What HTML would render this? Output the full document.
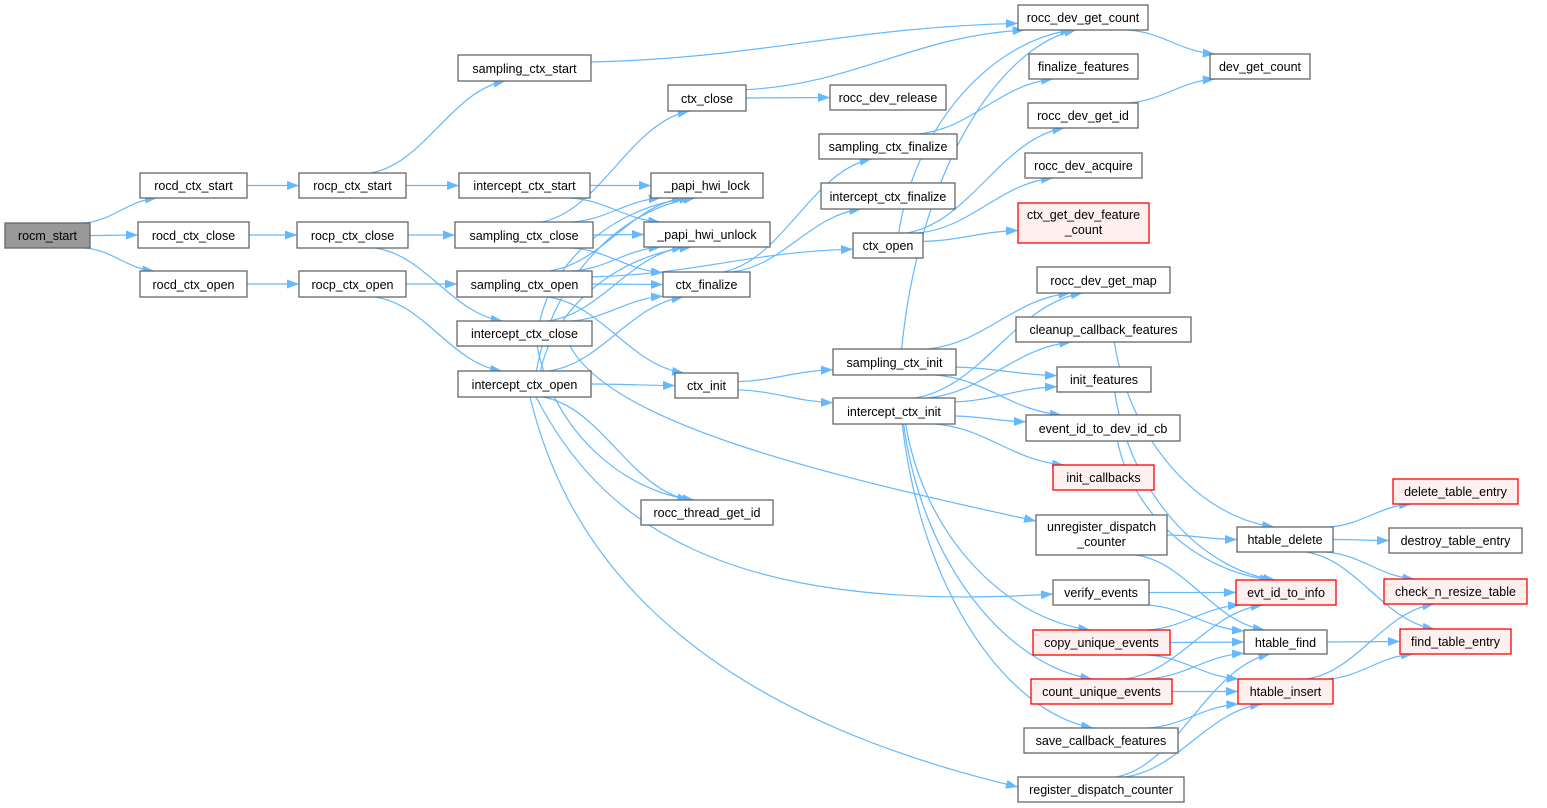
<!DOCTYPE html>
<html><head><meta charset="utf-8"><style>
html,body{margin:0;padding:0;background:#fff;}
svg{display:block;}
text{font-family:"Liberation Sans",Arial,sans-serif;font-size:12.5px;fill:#000;text-anchor:middle;}
rect{stroke:#666;stroke-width:1.3;fill:#fff;}
rect.r{stroke:#f00;fill:#fff0f0;}
rect.g{fill:#999;stroke:#666;}
</style></head><body>
<svg id="s" width="1547" height="808" viewBox="0 0 1547 808" xmlns="http://www.w3.org/2000/svg">
<defs><marker id="ah" markerUnits="userSpaceOnUse" markerWidth="13" markerHeight="10" refX="12" refY="4.5" orient="auto"><path d="M0,0 L12,4.5 L0,9 z" fill="#63b8ff"/></marker></defs>
<g id="edges" fill="none" stroke="#63b8ff" stroke-width="1.2"></g>
<g id="nodes">
<rect id="A" class="g" x="5" y="223" width="85" height="25"/><text x="47.5" y="240">rocm_start</text>
<rect id="B1" x="140" y="173" width="107" height="25"/><text x="193.5" y="190">rocd_ctx_start</text>
<rect id="B2" x="138" y="222" width="111" height="26"/><text x="193.5" y="240">rocd_ctx_close</text>
<rect id="B3" x="140" y="271" width="107" height="26"/><text x="193.5" y="289">rocd_ctx_open</text>
<rect id="C1" x="299" y="173" width="107" height="25"/><text x="352.5" y="190">rocp_ctx_start</text>
<rect id="C2" x="297" y="222" width="111" height="26"/><text x="352.5" y="240">rocp_ctx_close</text>
<rect id="C3" x="299" y="271" width="107" height="26"/><text x="352.5" y="289">rocp_ctx_open</text>
<rect id="D0" x="458" y="55" width="133" height="26"/><text x="524.5" y="73">sampling_ctx_start</text>
<rect id="D1" x="459" y="173" width="131" height="25"/><text x="524.5" y="190">intercept_ctx_start</text>
<rect id="D2" x="455" y="222" width="138" height="26"/><text x="524" y="240">sampling_ctx_close</text>
<rect id="D3" x="457" y="271" width="135" height="26"/><text x="524.5" y="289">sampling_ctx_open</text>
<rect id="D4" x="457" y="321" width="135" height="25"/><text x="524.5" y="338">intercept_ctx_close</text>
<rect id="D5" x="458" y="371" width="133" height="26"/><text x="524.5" y="389">intercept_ctx_open</text>
<rect id="E" x="668" y="85" width="78" height="26"/><text x="707" y="103">ctx_close</text>
<rect id="Lk" x="651" y="173" width="112" height="25"/><text x="707" y="190">_papi_hwi_lock</text>
<rect id="Ul" x="644" y="222" width="126" height="25"/><text x="707" y="239">_papi_hwi_unlock</text>
<rect id="Fz" x="663" y="272" width="87" height="25"/><text x="706.5" y="289">ctx_finalize</text>
<rect id="In" x="675" y="373" width="63" height="25"/><text x="706.5" y="390">ctx_init</text>
<rect id="Th" x="641" y="500" width="132" height="25"/><text x="707" y="517">rocc_thread_get_id</text>
<rect id="Gc" x="1018" y="5" width="130" height="25"/><text x="1083" y="22">rocc_dev_get_count</text>
<rect id="Rl" x="830" y="85" width="116" height="25"/><text x="888" y="102">rocc_dev_release</text>
<rect id="Sf" x="819" y="134" width="138" height="25"/><text x="888" y="151">sampling_ctx_finalize</text>
<rect id="If" x="821" y="183" width="134" height="26"/><text x="888" y="201">intercept_ctx_finalize</text>
<rect id="Op" x="853" y="233" width="70" height="25"/><text x="888" y="250">ctx_open</text>
<rect id="Si" x="833" y="349" width="123" height="26"/><text x="894.5" y="367">sampling_ctx_init</text>
<rect id="Ii" x="833" y="398" width="122" height="26"/><text x="894" y="416">intercept_ctx_init</text>
<rect id="Ff" x="1029" y="54" width="109" height="25"/><text x="1083.5" y="71">finalize_features</text>
<rect id="Gi" x="1028" y="103" width="110" height="25"/><text x="1083" y="120">rocc_dev_get_id</text>
<rect id="Aq" x="1025" y="153" width="117" height="25"/><text x="1083.5" y="170">rocc_dev_acquire</text>
<rect id="Fc" class="r" x="1018" y="203" width="131" height="40"/><text x="1083.5" y="219">ctx_get_dev_feature</text><text x="1083.5" y="234">_count</text>
<rect id="Gm" x="1037" y="267" width="133" height="26"/><text x="1103.5" y="285">rocc_dev_get_map</text>
<rect id="Cb" x="1016" y="317" width="175" height="25"/><text x="1103.5" y="334">cleanup_callback_features</text>
<rect id="If2" x="1057" y="367" width="94" height="25"/><text x="1104" y="384">init_features</text>
<rect id="Ev" x="1026" y="415" width="154" height="26"/><text x="1103" y="433">event_id_to_dev_id_cb</text>
<rect id="Ic" class="r" x="1053" y="465" width="101" height="25"/><text x="1103.5" y="482">init_callbacks</text>
<rect id="Ud" x="1036" y="515" width="131" height="40"/><text x="1101.5" y="531">unregister_dispatch</text><text x="1101.5" y="546">_counter</text>
<rect id="Ve" x="1053" y="580" width="96" height="25"/><text x="1101" y="597">verify_events</text>
<rect id="Cu" class="r" x="1033" y="630" width="137" height="25"/><text x="1101.5" y="647">copy_unique_events</text>
<rect id="Cn" class="r" x="1031" y="679" width="141" height="25"/><text x="1101.5" y="696">count_unique_events</text>
<rect id="Sv" x="1024" y="728" width="154" height="25"/><text x="1101" y="745">save_callback_features</text>
<rect id="Rd" x="1018" y="777" width="166" height="25"/><text x="1101" y="794">register_dispatch_counter</text>
<rect id="Dg" x="1210" y="54" width="100" height="25"/><text x="1260" y="71">dev_get_count</text>
<rect id="Hd" x="1237" y="527" width="96" height="25"/><text x="1285" y="544">htable_delete</text>
<rect id="Et" class="r" x="1236" y="580" width="100" height="25"/><text x="1286" y="597">evt_id_to_info</text>
<rect id="Hf" x="1244" y="630" width="83" height="24"/><text x="1285.5" y="647">htable_find</text>
<rect id="Hi" class="r" x="1238" y="679" width="95" height="25"/><text x="1285.5" y="696">htable_insert</text>
<rect id="Dt" class="r" x="1393" y="479" width="125" height="25"/><text x="1455.5" y="496">delete_table_entry</text>
<rect id="Ds" x="1389" y="528" width="133" height="25"/><text x="1455.5" y="545">destroy_table_entry</text>
<rect id="Ck" class="r" x="1384" y="579" width="143" height="25"/><text x="1455.5" y="596">check_n_resize_table</text>
<rect id="Ft" class="r" x="1400" y="629" width="111" height="25"/><text x="1455.5" y="646">find_table_entry</text>
</g>
</svg>
<script>
(function(){
var E="A-B1 A-B2 A-B3 B1-C1 B2-C2 B3-C3 C1-D0 C1-D1 C2-D2 C2-D4 C3-D3 C3-D5 D0-Gc D1-Lk D1-Ul D2-E D2-Lk D2-Ul D2-Fz D3-Lk D3-Ul D3-Fz D3-Op D3-In D4-Lk D4-Ul D4-Fz D4-Th D4-Ud D5-Lk D5-Ul D5-Fz D5-In D5-Th D5-Ve D5-Rd E-Gc E-Rl Fz-Sf Fz-If In-Si In-Ii Sf-Ff Op-Gc Op-Gi Op-Aq Op-Fc Si-Gc Si-Gm Si-If2 Si-Ev Ii-Gm Ii-Cb Ii-If2 Ii-Ev Ii-Ic Ii-Cu Ii-Cn Ii-Sv Gc-Dg Gi-Dg Cb-Hd If2-Et Ev-Et Ud-Hd Ud-Hf Ve-Et Ve-Hf Cu-Et Cu-Hf Cu-Hi Cn-Et Cn-Hf Cn-Hi Sv-Hi Rd-Hf Rd-Hi Hd-Dt Hd-Ds Hd-Ck Hd-Ft Hf-Ft Hi-Ck Hi-Ft".split(" ");
var OV={"D5-Rd":"M530,397 C560,520 650,700 1018,787","D5-Ve":"M536,397 C600,520 720,615 1053,594","D4-Ud":"M570,346 C610,420 800,470 1036,521"};
function box(id){var r=document.getElementById(id);var x=+r.getAttribute("x"),y=+r.getAttribute("y"),w=+r.getAttribute("width"),h=+r.getAttribute("height");return{cx:x+w/2,cy:y+h/2,hw:w/2,hh:h/2};}
function edgePt(b,dx,dy){var t=Infinity;if(dx)t=Math.min(t,b.hw/Math.abs(dx));if(dy)t=Math.min(t,b.hh/Math.abs(dy));return[b.cx+dx*t,b.cy+dy*t];}
var g=document.getElementById("edges"),ns="http://www.w3.org/2000/svg";
E.forEach(function(e){var d;
if(OV[e]){d=OV[e];}else{
var p=e.split("-"),s=box(p[0]),t=box(p[1]);
var a=edgePt(s,t.cx-s.cx,t.cy-s.cy),b=edgePt(t,s.cx-t.cx,s.cy-t.cy);
var c1,c2;
if(Math.abs(t.cy-s.cy)<8){a=[s.cx+s.hw,s.cy];b=[t.cx-t.hw,t.cy];c1=[a[0]+(b[0]-a[0])*0.4,a[1]];c2=[b[0]-(b[0]-a[0])*0.4,b[1]];}
else{var dx=b[0]-a[0],dy=b[1]-a[1];
var vert=Math.abs(dy)>Math.abs(dx)*0.8;
if(vert){c1=[a[0]+dx*0.1,a[1]+dy*0.55];c2=[b[0]-dx*0.45,b[1]-dy*0.05];}
else{c1=[a[0]+dx*0.4,a[1]+dy*0.1];c2=[b[0]-dx*0.4,b[1]-dy*0.1];}}
d="M"+a[0].toFixed(1)+","+a[1].toFixed(1)+" C"+c1[0].toFixed(1)+","+c1[1].toFixed(1)+" "+c2[0].toFixed(1)+","+c2[1].toFixed(1)+" "+b[0].toFixed(1)+","+b[1].toFixed(1);}
var path=document.createElementNS(ns,"path");
path.setAttribute("d",d);
path.setAttribute("marker-end","url(#ah)");g.appendChild(path);});
})();
</script>
</body></html>
